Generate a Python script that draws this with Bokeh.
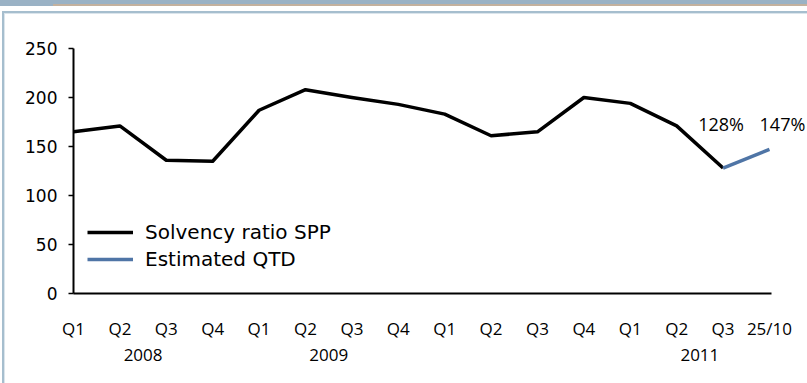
from bokeh.plotting import figure
from bokeh.models import (Range1d, FixedTicker, LinearAxis, Label, Legend, LegendItem)
from bokeh.embed import file_html
from bokeh.resources import INLINE

# Quarter tick labels (Q1 2008 .. Q3 2011, then the 25 October estimate)
quarter_labels = ["Q1", "Q2", "Q3", "Q4", "Q1", "Q2", "Q3", "Q4",
                  "Q1", "Q2", "Q3", "Q4", "Q1", "Q2", "Q3", "25/10"]
year_labels = ["2008", "2009", "2011"]
year_positions = [1.5, 5.5, 13.5]

# Solvency ratio SPP per quarter end (%)
solvency_ratio = [165, 171, 136, 135, 187, 208, 200, 193,
                  183, 161, 165, 200, 194, 171, 128]
# Estimated quarter-to-date: from Q3 2011 to 25/10
estimated_qtd = [128, 147]
estimated_x = [14, 15]

y_ticks = [0, 50, 100, 150, 200, 250]

W, H = 807, 383

# Slide decoration painted behind the (transparent) canvas border:
# top banner with a thin tan rule, then the light-blue frame lines.
slide_background = ", ".join([
    "linear-gradient(#c3b19e, #c3b19e) 53px 4px / 754px 2px no-repeat",
    "linear-gradient(#9ab2c5, #9ab2c5) 0px 0px / 807px 6px no-repeat",
    "linear-gradient(#a6bece, #a6bece) 2px 11px / 805px 2px no-repeat",
    "linear-gradient(#dbe5ec, #dbe5ec) 4px 13px / 803px 1px no-repeat",
    "linear-gradient(#a6bece, #a6bece) 2px 11px / 2px 372px no-repeat",
    "linear-gradient(#dbe5ec, #dbe5ec) 4px 13px / 1px 370px no-repeat",
    "white",
])

p = figure(width=W, height=H, output_backend="svg", toolbar_location=None,
           x_range=Range1d(0, 15.82), y_range=Range1d(0, 250),
           min_border_left=73, min_border_right=0,
           min_border_top=48, min_border_bottom=90,
           background_fill_color="white", border_fill_alpha=0,
           outline_line_color=None)
p.styles = {"background": slide_background}
p.xgrid.visible = False
p.ygrid.visible = False

# Axes
xa = p.xaxis[0]
xa.ticker = FixedTicker(ticks=list(range(len(quarter_labels))))
xa.major_label_overrides = {i: t for i, t in enumerate(quarter_labels)}
xa.bounds = (0, 15.05)
xa.major_tick_line_color = None
xa.minor_tick_line_color = None
xa.axis_line_color = "black"
xa.axis_line_width = 2
xa.major_label_standoff = 17
xa.major_label_text_font = "Open Sans"
xa.major_label_text_font_size = "17px"
xa.major_label_text_color = "black"

year_axis = LinearAxis(ticker=FixedTicker(ticks=year_positions),
                       major_label_overrides={v: t for v, t in zip(year_positions, year_labels)},
                       axis_line_color=None, major_tick_line_color=None,
                       minor_tick_line_color=None, major_label_standoff=0,
                       major_label_text_font="Open Sans",
                       major_label_text_font_size="17px",
                       major_label_text_color="black")
p.add_layout(year_axis, "below")

ya = p.yaxis[0]
ya.ticker = FixedTicker(ticks=y_ticks)
ya.major_tick_out = 5
ya.major_tick_in = 0
ya.major_tick_line_width = 1.5
ya.minor_tick_line_color = None
ya.axis_line_width = 2
ya.major_label_standoff = 11
ya.major_label_text_font = "DejaVu Sans"
ya.major_label_text_font_size = "17px"
ya.major_label_text_color = "black"

# Series
r1 = p.line(x=list(range(len(solvency_ratio))), y=solvency_ratio,
            line_color="black", line_width=3.5, line_join="round")
r2 = p.line(x=estimated_x, y=estimated_qtd,
            line_color="#4f75a6", line_width=3.5, line_join="round")

# Value labels for the estimate segment
p.add_layout(Label(x=estimated_x[0], y=estimated_qtd[0], text=f"{estimated_qtd[0]}%",
                   x_offset=-2, y_offset=44, text_align="center", text_baseline="middle",
                   text_font="Open Sans", text_font_size="18px", text_color="black"))
p.add_layout(Label(x=estimated_x[1], y=estimated_qtd[1], text=f"{estimated_qtd[1]}%",
                   x_offset=13, y_offset=25, text_align="center", text_baseline="middle",
                   text_font="Open Sans", text_font_size="18px", text_color="black"))

legend = Legend(items=[LegendItem(label="Solvency ratio SPP", renderers=[r1]),
                       LegendItem(label="Estimated QTD", renderers=[r2])],
                location=(14, 22), orientation="vertical",
                glyph_width=46, glyph_height=24, label_height=24, spacing=3,
                label_standoff=12, padding=0, margin=0,
                label_text_font="DejaVu Sans", label_text_font_size="20px",
                label_text_color="black",
                background_fill_alpha=0, border_line_color=None)
p.add_layout(legend, "center")

open("out.html", "w").write(file_html(p, INLINE))
